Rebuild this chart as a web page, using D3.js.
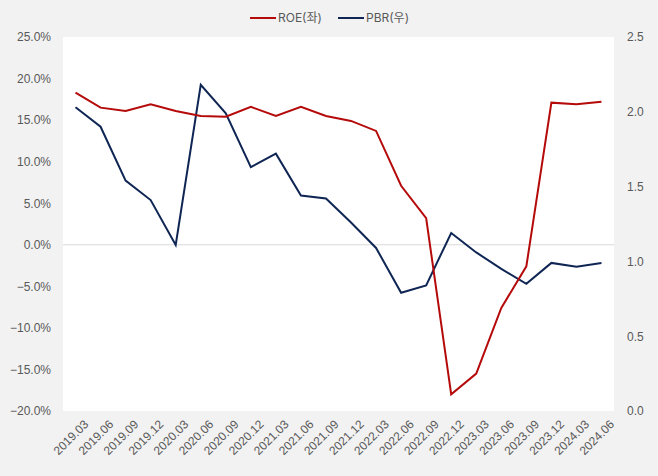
<!DOCTYPE html>
<html>
<head>
<meta charset="utf-8">
<script src="https://cdn.jsdelivr.net/npm/d3@7"></script>
<style>
  body { margin: 0; background: #f2f2f2; }
  svg { display: block; font-family: Inter, "Noto Sans CJK KR", sans-serif; }
  .tick text, .label { fill: #595959; font-size: 12px; }
  .domain, .tick line { display: none; }
</style>
</head>
<body>
<svg width="658" height="476"></svg>
<script>
var quarters = ["2019.03","2019.06","2019.09","2019.12","2020.03","2020.06","2020.09","2020.12",
  "2021.03","2021.06","2021.09","2021.12","2022.03","2022.06","2022.09","2022.12",
  "2023.03","2023.06","2023.09","2023.12","2024.03","2024.06"];
var roe = [18.3, 16.5, 16.1, 16.9, 16.1, 15.5, 15.4, 16.6, 15.5, 16.6, 15.5, 14.9,
  13.7, 7.1, 3.2, -18.0, -15.5, -7.6, -2.6, 17.1, 16.9, 17.2];
var pbr = [2.03, 1.90, 1.54, 1.41, 1.11, 2.18, 1.99, 1.63, 1.72, 1.44, 1.42, 1.26,
  1.09, 0.79, 0.84, 1.19, 1.06, 0.95, 0.85, 0.99, 0.965, 0.99];
var leftTicks = [-20, -15, -10, -5, 0, 5, 10, 15, 20, 25];
var rightTicks = [0, 0.5, 1.0, 1.5, 2.0, 2.5];

var svg = d3.select("svg");
var plotL = 63, plotR = 614, plotT = 37, plotB = 411;

var x = d3.scalePoint().domain(quarters).range([plotL, plotR]).padding(0.5);
var yL = d3.scaleLinear().domain([-20, 25]).range([plotB, plotT]);
var yR = d3.scaleLinear().domain([0, 2.5]).range([plotB, plotT]);

svg.append("rect")
  .attr("x", plotL).attr("y", plotT)
  .attr("width", plotR - plotL).attr("height", plotB - plotT)
  .attr("fill", "#fff");

// zero line
svg.append("line")
  .attr("x1", plotL).attr("x2", plotR)
  .attr("y1", yL(0)).attr("y2", yL(0))
  .attr("stroke", "#d9d9d9").attr("stroke-width", 1);

svg.append("g")
  .attr("transform", "translate(" + (plotL - 1) + ",0)")
  .call(d3.axisLeft(yL).tickValues(leftTicks).tickSize(0).tickPadding(11)
    .tickFormat(d => d3.format(".1f")(d) + "%"));

svg.append("g")
  .attr("transform", "translate(" + (plotR + 1) + ",0)")
  .call(d3.axisRight(yR).tickValues(rightTicks).tickSize(0).tickPadding(12)
    .tickFormat(d3.format(".1f")));

svg.append("g")
  .attr("transform", "translate(0," + plotB + ")")
  .call(d3.axisBottom(x).tickSize(0))
  .selectAll("text")
    .attr("text-anchor", "end")
    .attr("transform", "translate(8,9) rotate(-45)")
    .attr("dy", "0.35em");

var lineL = d3.line().x((d, i) => x(quarters[i])).y(d => yL(d));
var lineR = d3.line().x((d, i) => x(quarters[i])).y(d => yR(d));

svg.append("path").datum(pbr)
  .attr("d", lineR).attr("fill", "none")
  .attr("stroke", "#0f2654").attr("stroke-width", 2);

svg.append("path").datum(roe)
  .attr("d", lineL).attr("fill", "none")
  .attr("stroke", "#b50a0a").attr("stroke-width", 2);

// legend
var legend = [["ROE(좌)", "#b50a0a", 250], ["PBR(우)", "#0f2654", 338]];
legend.forEach(function (l) {
  svg.append("line")
    .attr("x1", l[2]).attr("x2", l[2] + 26)
    .attr("y1", 18).attr("y2", 18)
    .attr("stroke", l[1]).attr("stroke-width", 2);
  svg.append("text").attr("class", "label")
    .attr("x", l[2] + 28).attr("y", 18).attr("dy", "0.35em")
    .text(l[0]);
});
</script>
</body>
</html>
